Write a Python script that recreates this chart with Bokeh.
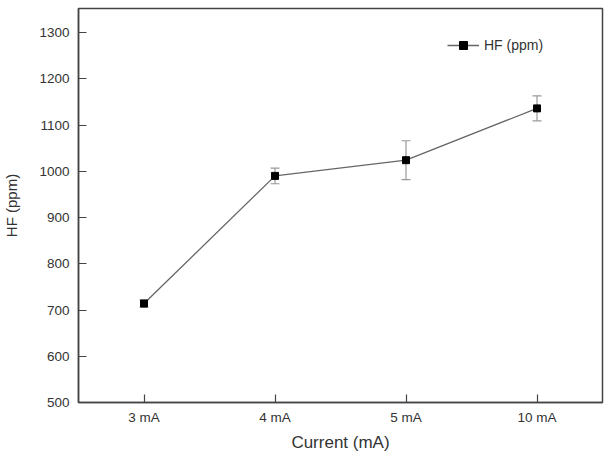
from bokeh.plotting import figure
from bokeh.models import ColumnDataSource, Whisker, TeeHead, Legend, LegendItem, FactorRange
from bokeh.embed import file_html
from bokeh.resources import INLINE

# HF concentration versus discharge current
currents = ["3 mA", "4 mA", "5 mA", "10 mA"]
hf_ppm = [714, 990, 1024, 1136]
hf_err = [8, 17, 42, 27]

src = ColumnDataSource(dict(
    x=currents,
    y=hf_ppm,
    lo=[v - e for v, e in zip(hf_ppm, hf_err)],
    hi=[v + e for v, e in zip(hf_ppm, hf_err)],
))

FONT = "Liberation Sans"
TXT = "#333333"
AXC = "#444444"

p = figure(
    width=612, height=455,
    x_range=FactorRange(*currents),
    y_range=(500, 1352),
    output_backend="svg", toolbar_location=None,
    min_border_left=77, min_border_right=10,
    min_border_top=8, min_border_bottom=53,
)

p.xgrid.visible = False
p.ygrid.visible = False
p.outline_line_color = AXC
p.outline_line_width = 1.5
p.background_fill_color = "white"
p.border_fill_color = "white"

for ax in (p.xaxis, p.yaxis):
    ax.axis_line_color = AXC
    ax.axis_line_width = 1.5
    ax.major_tick_line_color = AXC
    ax.major_tick_line_width = 1.2
    ax.major_tick_in = 8
    ax.major_tick_out = 0
    ax.minor_tick_line_color = None
    ax.major_label_text_font = FONT
    ax.major_label_text_font_size = "13.5px"
    ax.major_label_text_color = TXT
    ax.axis_label_text_font = FONT
    ax.axis_label_text_font_style = "normal"
    ax.axis_label_text_color = TXT

p.yaxis.ticker = list(range(500, 1301, 100))
p.yaxis.major_label_standoff = 9
p.yaxis.axis_label = "HF (ppm)"
p.yaxis.axis_label_text_font_size = "15px"
p.yaxis.axis_label_standoff = 16
p.xaxis.major_label_standoff = 7
p.xaxis.axis_label = "Current (mA)"
p.xaxis.axis_label_text_font_size = "17px"
p.xaxis.axis_label_standoff = 5

whisk = Whisker(
    source=src, base="x", lower="lo", upper="hi",
    line_color="#999999", line_width=1.2,
    upper_head=TeeHead(size=9, line_color="#999999", line_width=1.2),
    lower_head=TeeHead(size=9, line_color="#999999", line_width=1.2),
)
p.add_layout(whisk)

ln = p.line("x", "y", source=src, line_color="#666666", line_width=1.3)
mk = p.scatter("x", "y", source=src, marker="square", size=7,
               fill_color="black", line_color="black")

legend = Legend(
    items=[LegendItem(label="HF (ppm)", renderers=[ln, mk])],
    location=(369, 347),
    border_line_color=None,
    background_fill_alpha=0,
    label_text_font=FONT,
    label_text_font_size="14px",
    label_text_color=TXT,
    glyph_width=32,
    padding=8,
)
p.add_layout(legend)

open("out.html", "w").write(file_html(p, INLINE))
